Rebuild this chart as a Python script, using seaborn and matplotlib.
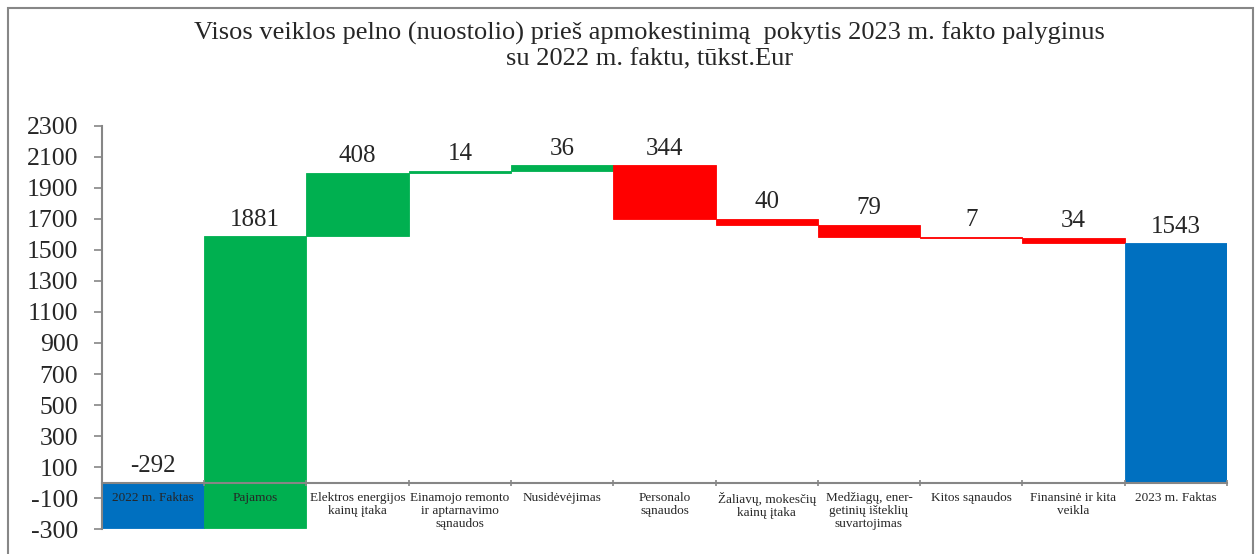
import numpy as np
import seaborn as sns
import matplotlib.pyplot as plt
from matplotlib.patches import Rectangle

# waterfall data, tūkst. Eur
categories = ['2022 m. Faktas', 'Pajamos', 'Elektros energijos\nkainų įtaka',
              'Einamojo remonto\nir aptarnavimo\nsąnaudos', 'Nusidėvėjimas',
              'Personalo\nsąnaudos', 'Žaliavų, mokesčių\nkainų įtaka',
              'Medžiagų, ener-\ngetinių išteklių\nsuvartojimas', 'Kitos sąnaudos',
              'Finansinė ir kita\nveikla', '2023 m. Faktas']
start_value = -292
changes = [1881, 408, 14, 36, -344, -40, -79, -7, -34]
end_value = 1543
yticks = list(range(-300, 2301, 200))

sns.set_theme(style='white')
plt.rcParams['font.family'] = ['Liberation Serif', 'DejaVu Serif']

blue, green, red = '#0070C0', '#00B050', '#FF0000'

# build bottoms / heights
running = start_value + np.cumsum(changes)
prev = np.concatenate([[start_value], running[:-1]])
bottoms = np.concatenate([[0], prev, [0]])
heights = np.concatenate([[start_value], changes, [end_value]])
colors = [blue] + [green if c > 0 else red for c in changes] + [blue]
labels = [start_value] + [abs(c) for c in changes] + [end_value]

fig = plt.figure(figsize=(12.57, 5.54), dpi=100)
ax = fig.add_axes([0.0811, 0.0451, 0.8950, 0.7275])
ax.set_axisbelow(False)

x = np.arange(len(categories))
ax.bar(x, heights, bottom=bottoms, width=1.0, color=colors, edgecolor=colors, linewidth=0.6)

for i in x:
    top = max(bottoms[i], bottoms[i] + heights[i])
    ax.annotate(str(labels[i]), (i, top), xytext=(0, 4), textcoords='offset points',
                ha='center', va='bottom', fontsize=18)

ax.set_xlim(-0.5, len(categories) - 0.5)
ax.set_ylim(-300, 2300)
ax.set_yticks(yticks)
ax.set_yticklabels([str(v) for v in yticks], fontsize=18.5)
ax.tick_params(axis='y', direction='out', length=6, width=1.2, color='#868686', pad=11, left=True)

ax.spines['bottom'].set_position(('data', 0))
for s in ['top', 'right']:
    ax.spines[s].set_visible(False)
for s in ['left', 'bottom']:
    ax.spines[s].set_color('#868686')
    ax.spines[s].set_linewidth(1.5)

ax.set_xticks(x)
ax.set_xticklabels(categories, fontsize=9.5, linespacing=1.1)
ax.set_xticks(np.arange(-0.5, len(categories)), minor=True)
ax.tick_params(axis='x', which='major', length=0, pad=7)
ax.tick_params(axis='x', which='minor', direction='inout', length=5, width=1.2,
               color='#868686', bottom=True)
ax.set_xlabel('')
ax.set_ylabel('')

fig.text(0.517, 1 - 46 / 554,
         'Visos veiklos pelno (nuostolio) prieš apmokestinimą  pokytis 2023 m. fakto palyginus\n'
         'su 2022 m. faktu, tūkst.Eur',
         ha='center', va='center', fontsize=19, linespacing=1.25)

fig.patches.append(Rectangle((8 / 1257, -0.05), 1245 / 1257, 1.05 - 8 / 554,
                             transform=fig.transFigure, fill=False,
                             edgecolor='#878787', linewidth=1.5))

fig.savefig('out.png', dpi=100)
